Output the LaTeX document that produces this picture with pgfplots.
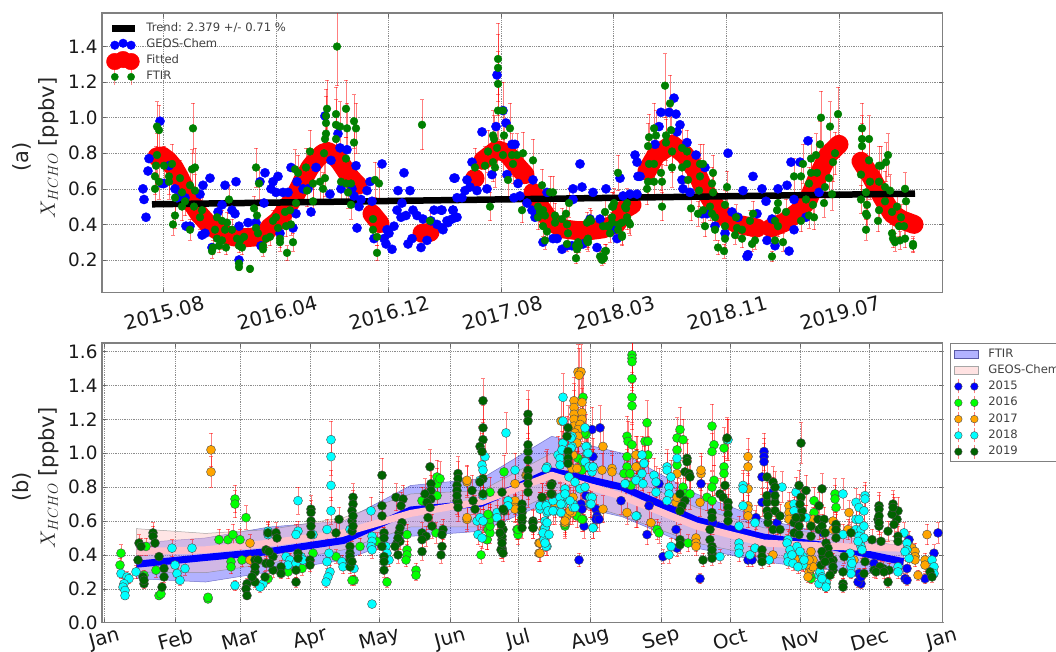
\documentclass[border=0pt]{standalone}
\usepackage{pgfplots}
\usepackage{pgfplotstable}
\usepackage{fontspec}
\setmainfont{DejaVu Sans}
\pgfplotsset{compat=1.18}
\definecolor{ftirg}{rgb}{0,0.5,0}
\definecolor{lime}{rgb}{0,1,0}
\definecolor{orng}{rgb}{1,0.647,0}
\definecolor{dkg}{rgb}{0,0.39,0}
\definecolor{cyn}{rgb}{0,1,1}
\definecolor{pnk}{rgb}{1,0.753,0.796}
\definecolor{framegray}{gray}{0.5}
\tikzset{labelA/.style={font=\fontsize{21}{25}\selectfont,color=black!85}}

% Panel (a): x = position along the time axis, y = XHCHO (ppbv)
\pgfplotstableread[row sep=\\,header=false]{
143 0.60\\144 0.54\\146 0.44\\148 0.70\\149 0.77\\160 0.98\\162 0.63\\164 0.63\\169 0.73\\175 0.60\\177 0.55\\190 0.39\\186 0.39\\185 0.55\\200 0.57\\203 0.62\\210 0.66\\225 0.62\\236 0.64\\202 0.34\\205 0.35\\218 0.47\\212 0.27\\222 0.51\\232 0.48\\235 0.46\\239 0.39\\239 0.20\\248 0.41\\256 0.41\\260 0.64\\265 0.69\\264 0.52\\271 0.60\\273 0.64\\278 0.67\\276 0.58\\283 0.58\\288 0.58\\291 0.72\\297 0.64\\296 0.46\\293 0.38\\280 0.35\\261 0.28\\311 0.47\\303 0.60\\308 0.60\\316 0.72\\325 1.01\\338 0.91\\331 0.76\\330 0.57\\340 0.83\\347 0.82\\341 0.60\\352 0.60\\356 0.73\\354 0.56\\361 0.54\\359 0.50\\357 0.38\\367 0.59\\370 0.64\\372 0.53\\374 0.32\\382 0.74\\384 0.32\\386 0.29\\387 0.37\\389 0.35\\392 0.26\\394 0.39\\397 0.48\\398 0.59\\401 0.44\\404 0.69\\406 0.45\\402 0.52\\410 0.59\\408 0.29\\412 0.32\\413 0.48\\417 0.45\\421 0.27\\423 0.43\\427 0.31\\431 0.42\\434 0.48\\441 0.48\\437 0.40\\442 0.38\\447 0.42\\452 0.43\\453 0.48\\457 0.44\\455 0.66\\457 0.55\\462 0.55\\465 0.59\\467 0.65\\470 0.61\\472 0.75\\477 0.59\\482 0.92\\487 0.60\\492 0.68\\
503 1.04\\496 0.95\\497 1.24\\506 0.97\\512 0.85\\515 0.85\\507 0.68\\454 0.66\\518 0.63\\533 0.65\\520 0.56\\514 0.55\\547 0.58\\580 0.74\\582 0.61\\573 0.60\\593 0.58\\606 0.60\\635 0.79\\637 0.75\\638 0.67\\620 0.66\\623 0.56\\630 0.57\\637 0.57\\527 0.52\\532 0.48\\535 0.44\\553 0.32\\557 0.32\\543 0.30\\562 0.26\\572 0.28\\567 0.28\\590 0.43\\583 0.29\\597 0.27\\600 0.43\\613 0.37\\617 0.32\\573 0.54\\442 0.48\\453 0.48\\456 0.44\\448 0.41\\443 0.37\\640 0.67\\
674 1.11\\661 1.03\\669 1.03\\676 1.02\\659 0.95\\680 0.96\\677 0.92\\655 0.85\\687 0.86\\696 0.79\\705 0.72\\682 0.65\\683 0.60\\690 0.58\\728 0.80\\702 0.46\\707 0.46\\715 0.39\\725 0.35\\732 0.47\\738 0.44\\743 0.59\\753 0.67\\762 0.60\\766 0.53\\757 0.46\\748 0.23\\747 0.22\\767 0.31\\772 0.43\\775 0.28\\778 0.60\\787 0.62\\791 0.75\\800 0.75\\789 0.25\\794 0.37\\794 0.54\\808 0.87\\806 0.44\\819 0.58\\
}\blueA

\pgfplotstableread[row sep=\\,header=false]{
157 0.95 0.14\\159 0.93 0.14\\157 0.79 0.12\\156 0.73 0.11\\164 0.73 0.11\\155 0.67 0.10\\159 0.64 0.10\\155 0.60 0.09\\172 0.74 0.11\\169 0.67 0.10\\169 0.64 0.10\\180 0.66 0.10\\175 0.55 0.08\\175 0.45 0.07\\173 0.40 0.06\\182 0.58 0.09\\182 0.50 0.08\\185 0.53 0.08\\193 0.94 0.14\\192 0.71 0.11\\195 0.72 0.11\\190 0.62 0.09\\195 0.59 0.09\\194 0.50 0.08\\190 0.37 0.06\\202 0.48 0.07\\200 0.44 0.07\\229 0.54 0.08\\217 0.44 0.07\\222 0.42 0.06\\227 0.41 0.06\\215 0.37 0.06\\217 0.32 0.05\\222 0.31 0.05\\225 0.37 0.06\\232 0.37 0.06\\226 0.27 0.04\\213 0.27 0.04\\212 0.25 0.04\\219 0.28 0.04\\237 0.32 0.05\\240 0.31 0.05\\244 0.33 0.05\\239 0.28 0.04\\242 0.27 0.04\\239 0.18 0.03\\239 0.16 0.02\\250 0.15 0.02\\256 0.72 0.11\\259 0.63 0.09\\254 0.49 0.07\\257 0.45 0.07\\256 0.38 0.06\\258 0.35 0.05\\263 0.28 0.04\\263 0.26 0.04\\266 0.32 0.05\\270 0.33 0.05\\273 0.42 0.06\\276 0.44 0.07\\278 0.38 0.06\\280 0.32 0.05\\280 0.30 0.05\\287 0.24 0.04\\286 0.39 0.06\\291 0.40 0.06\\293 0.30 0.05\\285 0.47 0.07\\290 0.48 0.07\\296 0.52 0.08\\295 0.71 0.11\\298 0.69 0.10\\307 0.59 0.09\\310 0.81 0.12\\306 0.72 0.11\\313 0.53 0.08\\313 0.63 0.09\\320 0.64 0.10\\325 0.66 0.10\\323 0.60 0.09\\324 0.80 0.12\\325 0.88 0.13\\326 0.91 0.14\\326 0.97 0.15\\326 1.01 0.15\\327 1.05 0.16\\336 1.02 0.15\\336 0.88 0.13\\336 0.96 0.14\\340 0.95 0.14\\346 1.05 0.16\\347 0.94 0.14\\354 0.98 0.15\\356 0.94 0.14\\354 0.86 0.13\\346 0.77 0.12\\341 0.64 0.10\\346 0.63 0.09\\351 0.63 0.09\\348 0.58 0.09\\351 0.51 0.08\\337 1.40 0.22\\375 0.65 0.10\\379 0.63 0.09\\373 0.43 0.06\\373 0.37 0.06\\377 0.33 0.05\\377 0.24 0.04\\422 0.96 0.14\\430 0.42 0.06\\475 0.72 0.11\\490 0.50 0.08\\485 0.73 0.11\\488 0.81 0.12\\493 0.90 0.14\\494 0.88 0.13\\495 0.72 0.11\\493 0.75 0.11\\497 0.83 0.12\\498 1.19 0.18\\498 1.28 0.19\\498 1.33 0.20\\498 1.04 0.16\\503 1.04 0.16\\504 0.90 0.14\\503 0.79 0.12\\510 0.94 0.14\\508 0.65 0.10\\512 0.79 0.12\\513 0.74 0.11\\523 0.80 0.12\\522 0.48 0.07\\517 0.79 0.12\\
533 0.76 0.12\\542 0.62 0.09\\550 0.58 0.09\\553 0.58 0.09\\538 0.50 0.08\\540 0.47 0.07\\543 0.48 0.07\\538 0.44 0.07\\545 0.45 0.07\\547 0.36 0.05\\543 0.39 0.06\\545 0.31 0.05\\555 0.45 0.07\\555 0.41 0.06\\562 0.43 0.06\\566 0.46 0.07\\567 0.40 0.06\\569 0.52 0.08\\568 0.35 0.05\\567 0.29 0.04\\576 0.21 0.03\\576 0.28 0.04\\577 0.26 0.04\\578 0.30 0.05\\587 0.41 0.06\\590 0.43 0.06\\588 0.32 0.05\\588 0.30 0.05\\605 0.47 0.07\\603 0.39 0.06\\607 0.39 0.06\\612 0.44 0.07\\613 0.50 0.08\\612 0.41 0.06\\610 0.35 0.05\\605 0.25 0.04\\600 0.22 0.03\\603 0.22 0.03\\602 0.20 0.03\\618 0.69 0.10\\625 0.50 0.08\\627 0.44 0.07\\622 0.41 0.06\\618 0.37 0.06\\622 0.34 0.05\\630 0.40 0.06\\
614 0.52 0.08\\612 0.50 0.08\\627 0.52 0.08\\626 0.49 0.07\\629 0.41 0.06\\622 0.33 0.05\\619 0.40 0.06\\609 0.39 0.06\\606 0.25 0.04\\604 0.21 0.03\\579 0.28 0.04\\587 0.31 0.05\\591 0.42 0.06\\
665 1.18 0.18\\670 1.08 0.16\\654 0.94 0.14\\649 0.89 0.13\\656 0.90 0.14\\648 0.84 0.13\\666 0.90 0.14\\671 0.93 0.14\\672 0.81 0.12\\666 0.86 0.13\\672 0.72 0.11\\662 0.50 0.08\\662 0.64 0.10\\661 0.69 0.10\\654 0.74 0.11\\649 0.74 0.11\\648 0.64 0.10\\654 0.64 0.10\\647 0.60 0.09\\682 0.83 0.12\\687 0.81 0.12\\682 0.72 0.11\\687 0.74 0.11\\688 0.65 0.10\\691 0.49 0.07\\700 0.74 0.11\\703 0.74 0.11\\700 0.67 0.10\\699 0.59 0.09\\698 0.46 0.07\\703 0.48 0.07\\713 0.69 0.10\\712 0.63 0.09\\713 0.58 0.09\\710 0.50 0.08\\712 0.46 0.07\\715 0.44 0.07\\705 0.39 0.06\\715 0.37 0.06\\718 0.27 0.04\\724 0.25 0.04\\727 0.61 0.09\\725 0.51 0.08\\725 0.39 0.06\\725 0.32 0.05\\736 0.44 0.07\\737 0.38 0.06\\742 0.37 0.06\\742 0.32 0.05\\735 0.34 0.05\\750 0.42 0.06\\753 0.46 0.07\\752 0.29 0.04\\755 0.31 0.05\\772 0.22 0.03\\778 0.52 0.08\\777 0.48 0.07\\775 0.42 0.06\\778 0.39 0.06\\775 0.31 0.05\\783 0.30 0.05\\786 0.47 0.07\\794 0.67 0.10\\801 0.67 0.10\\803 0.74 0.11\\811 0.77 0.12\\816 0.79 0.12\\809 0.63 0.09\\811 0.69 0.10\\817 0.69 0.10\\806 0.54 0.08\\813 0.51 0.08\\809 0.45 0.07\\814 0.44 0.07\\801 0.42 0.06\\821 1.00 0.15\\820 0.85 0.13\\825 0.61 0.09\\824 0.52 0.08\\829 0.66 0.10\\830 0.95 0.14\\833 0.75 0.11\\835 0.80 0.12\\838 1.02 0.15\\832 0.57 0.09\\
862 0.94 0.14\\862 0.88 0.13\\862 0.84 0.13\\861 0.68 0.10\\861 0.54 0.08\\869 0.88 0.13\\869 0.76 0.11\\870 0.64 0.10\\866 0.58 0.09\\867 0.51 0.08\\866 0.46 0.07\\867 0.45 0.07\\866 0.37 0.06\\878 0.42 0.06\\879 0.73 0.11\\881 0.73 0.11\\886 0.75 0.11\\888 0.79 0.12\\879 0.64 0.10\\885 0.61 0.09\\890 0.59 0.09\\879 0.48 0.07\\885 0.53 0.08\\892 0.47 0.07\\897 0.50 0.08\\901 0.44 0.07\\905 0.60 0.09\\906 0.53 0.08\\892 0.35 0.05\\893 0.32 0.05\\895 0.30 0.05\\899 0.39 0.06\\904 0.39 0.06\\900 0.31 0.05\\905 0.32 0.05\\913 0.29 0.04\\913 0.28 0.04\\
}\greenA

% Panel (b): x = position along the month axis, y = XHCHO, e = error
\pgfplotstableread[row sep=\\,header=false]{
579 0.37 0.04\\700 0.26 0.03\\663 0.39 0.04\\647 0.52 0.06\\592 1.14 0.13\\600 1.15 0.13\\593 0.98 0.11\\586 0.75 0.08\\581 0.70 0.08\\582 0.67 0.08\\584 0.57 0.07\\596 0.67 0.08\\597 0.63 0.07\\596 0.61 0.07\\599 0.61 0.07\\621 0.72 0.08\\659 0.82 0.09\\649 0.69 0.08\\676 0.55 0.06\\677 0.44 0.05\\701 0.82 0.09\\713 0.59 0.07\\748 0.37 0.04\\752 0.37 0.04\\756 0.62 0.07\\762 0.71 0.08\\762 0.86 0.10\\764 1.01 0.11\\764 0.98 0.11\\764 0.95 0.11\\773 0.77 0.09\\777 0.59 0.07\\823 0.53 0.06\\859 0.29 0.03\\861 0.23 0.03\\858 0.24 0.03\\861 0.27 0.03\\874 0.35 0.04\\909 0.49 0.05\\907 0.32 0.04\\905 0.26 0.03\\907 0.25 0.03\\925 0.26 0.03\\934 0.41 0.05\\938 0.53 0.06\\
}\yrA
\pgfplotstableread[row sep=\\,header=false]{
121 0.41 0.05\\120 0.34 0.04\\146 0.45 0.05\\159 0.16 0.02\\161 0.17 0.02\\144 0.28 0.03\\156 0.31 0.04\\208 0.14 0.02\\208 0.15 0.02\\219 0.49 0.06\\228 0.49 0.06\\233 0.52 0.06\\240 0.49 0.06\\235 0.73 0.08\\235 0.70 0.08\\246 0.62 0.07\\231 0.36 0.04\\231 0.33 0.04\\242 0.37 0.04\\268 0.26 0.03\\288 0.30 0.04\\302 0.32 0.04\\313 0.41 0.05\\336 0.39 0.04\\354 0.25 0.03\\352 0.25 0.03\\360 0.45 0.05\\377 0.48 0.05\\387 0.24 0.03\\407 0.52 0.06\\407 0.43 0.05\\407 0.40 0.05\\406 0.37 0.04\\416 0.31 0.04\\416 0.28 0.03\\422 0.72 0.08\\437 0.86 0.10\\437 0.82 0.09\\437 0.75 0.08\\436 0.53 0.06\\490 0.77 0.09\\490 0.63 0.07\\488 0.59 0.07\\488 0.55 0.06\\487 0.49 0.06\\481 0.40 0.05\\504 0.89 0.10\\517 0.55 0.06\\518 0.52 0.06\\
440 0.85 0.10\\487 0.49 0.06\\490 0.53 0.06\\490 0.57 0.07\\490 0.61 0.07\\488 0.64 0.07\\518 0.55 0.06\\577 0.63 0.07\\565 0.57 0.07\\583 1.33 0.15\\583 0.61 0.07\\578 0.97 0.11\\583 0.95 0.11\\586 1.11 0.12\\582 0.90 0.10\\
582 0.61 0.07\\565 0.58 0.07\\584 1.12 0.13\\632 1.58 0.17\\632 1.56 0.17\\632 1.54 0.17\\632 1.44 0.16\\632 1.33 0.15\\632 1.28 0.14\\627 1.10 0.12\\628 1.07 0.12\\632 1.05 0.12\\627 0.98 0.11\\627 0.92 0.10\\624 0.88 0.10\\630 0.88 0.10\\626 0.82 0.09\\631 0.81 0.09\\647 1.18 0.13\\645 1.07 0.12\\648 1.07 0.12\\648 0.99 0.11\\644 0.94 0.11\\657 0.55 0.06\\659 0.53 0.06\\680 1.14 0.13\\677 1.09 0.12\\683 1.08 0.12\\677 1.02 0.11\\677 0.93 0.10\\683 0.80 0.09\\685 0.76 0.09\\690 0.76 0.09\\688 0.47 0.05\\712 1.16 0.13\\714 1.05 0.12\\712 1.01 0.11\\714 0.84 0.09\\712 0.80 0.09\\707 0.74 0.08\\712 0.72 0.08\\724 1.03 0.12\\727 1.08 0.12\\724 0.92 0.10\\724 0.88 0.10\\814 0.72 0.08\\814 0.65 0.07\\835 0.76 0.09\\835 0.73 0.08\\836 0.68 0.08\\811 0.26 0.03\\810 0.28 0.03\\826 0.21 0.03\\826 0.23 0.03\\
}\yrB
\pgfplotstableread[row sep=\\,header=false]{
211 1.02 0.10\\211 0.89 0.09\\250 0.47 0.05\\250 0.37 0.04\\467 0.83 0.09\\467 0.61 0.07\\515 0.82 0.09\\515 0.72 0.08\\515 0.68 0.08\\515 0.67 0.08\\526 0.87 0.10\\
467 0.84 0.09\\467 0.62 0.07\\539 0.47 0.05\\539 0.41 0.05\\527 0.87 0.10\\561 1.19 0.13\\578 1.48 0.16\\581 1.48 0.16\\579 1.46 0.16\\574 1.31 0.14\\574 1.27 0.14\\582 1.30 0.14\\574 1.23 0.14\\582 1.24 0.14\\574 1.20 0.13\\582 1.20 0.13\\574 1.16 0.13\\580 1.17 0.13\\578 1.14 0.13\\575 1.12 0.12\\578 1.10 0.12\\577 1.06 0.12\\573 0.99 0.11\\572 0.91 0.10\\577 0.91 0.10\\603 1.04 0.12\\602 0.90 0.10\\612 0.91 0.10\\612 0.89 0.10\\603 0.67 0.08\\627 0.65 0.07\\637 0.99 0.11\\637 0.92 0.10\\565 0.59 0.07\\567 0.63 0.07\\573 0.74 0.08\\572 0.65 0.07\\555 0.70 0.08\\
636 0.99 0.11\\636 0.92 0.10\\651 0.59 0.07\\676 0.71 0.08\\677 0.74 0.08\\677 0.88 0.10\\696 0.50 0.06\\696 0.47 0.05\\696 0.45 0.05\\700 0.71 0.08\\701 0.88 0.10\\701 0.90 0.10\\748 0.98 0.11\\748 0.92 0.10\\748 0.79 0.09\\748 0.69 0.08\\748 0.67 0.08\\748 0.63 0.07\\773 0.40 0.05\\789 0.69 0.08\\789 0.65 0.07\\789 0.61 0.07\\798 0.37 0.04\\802 0.35 0.04\\809 0.30 0.04\\811 0.32 0.04\\813 0.37 0.04\\813 0.33 0.04\\813 0.61 0.07\\833 0.60 0.07\\836 0.57 0.07\\833 0.55 0.06\\849 0.65 0.07\\848 0.55 0.06\\854 0.37 0.04\\912 0.44 0.05\\915 0.42 0.05\\915 0.39 0.04\\915 0.37 0.04\\918 0.28 0.03\\925 0.37 0.04\\925 0.34 0.04\\927 0.52 0.06\\570 0.66 0.08\\565 0.60 0.07\\540 0.41 0.05\\540 0.47 0.05\\543 0.55 0.06\\
806 0.34 0.04\\809 0.37 0.04\\811 0.42 0.05\\808 0.27 0.03\\
}\yrC
\pgfplotstableread[row sep=\\,header=false]{
121 0.29 0.03\\127 0.27 0.03\\129 0.26 0.03\\124 0.23 0.03\\123 0.21 0.03\\125 0.19 0.02\\125 0.16 0.02\\136 0.30 0.04\\172 0.44 0.05\\192 0.44 0.05\\177 0.29 0.03\\175 0.34 0.04\\180 0.25 0.03\\185 0.32 0.04\\235 0.22 0.03\\268 0.54 0.06\\268 0.52 0.06\\263 0.23 0.03\\260 0.21 0.03\\298 0.54 0.06\\296 0.52 0.06\\286 0.39 0.04\\290 0.37 0.04\\288 0.34 0.04\\296 0.35 0.04\\301 0.39 0.04\\303 0.37 0.04\\298 0.72 0.08\\313 0.52 0.06\\331 1.08 0.11\\331 0.98 0.11\\331 0.81 0.09\\331 0.66 0.08\\327 0.55 0.06\\329 0.41 0.05\\327 0.36 0.04\\330 0.30 0.04\\328 0.27 0.03\\326 0.24 0.03\\342 0.36 0.04\\343 0.33 0.04\\350 0.55 0.06\\350 0.35 0.04\\354 0.32 0.04\\372 0.11 0.02\\371 0.66 0.08\\372 0.51 0.06\\372 0.48 0.05\\371 0.45 0.05\\372 0.43 0.05\\386 0.45 0.05\\387 0.41 0.05\\389 0.37 0.04\\
485 0.98 0.11\\482 0.93 0.10\\483 0.90 0.10\\480 0.84 0.09\\483 0.75 0.08\\477 0.60 0.07\\480 0.62 0.07\\483 0.60 0.07\\478 0.52 0.06\\482 0.50 0.06\\497 0.65 0.07\\497 0.62 0.07\\506 1.12 0.12\\515 0.90 0.10\\508 0.72 0.08\\508 0.69 0.08\\547 0.92 0.10\\540 0.69 0.08\\540 0.67 0.08\\547 0.65 0.07\\547 0.70 0.08\\545 0.56 0.06\\545 0.53 0.06\\544 0.49 0.06\\547 0.45 0.05\\553 0.72 0.08\\555 0.66 0.08\\558 0.99 0.11\\560 0.97 0.11\\563 1.33 0.14\\563 1.19 0.13\\563 1.06 0.12\\562 1.02 0.11\\560 0.93 0.10\\572 1.10 0.12\\572 1.04 0.12\\565 0.79 0.09\\565 0.75 0.08\\563 0.70 0.08\\573 0.70 0.08\\573 0.68 0.08\\587 1.04 0.12\\587 1.00 0.11\\585 0.95 0.11\\593 0.92 0.10\\592 0.89 0.10\\590 0.74 0.08\\590 0.70 0.08\\593 0.56 0.06\\637 0.63 0.07\\638 0.85 0.10\\625 0.82 0.09\\
571 1.09 0.12\\571 1.03 0.12\\585 1.15 0.13\\586 1.04 0.12\\588 1.00 0.11\\589 0.92 0.10\\593 0.92 0.10\\592 0.74 0.08\\591 0.70 0.08\\593 0.56 0.06\\540 0.69 0.08\\546 0.69 0.08\\546 0.91 0.10\\545 0.56 0.06\\543 0.53 0.06\\546 0.45 0.05\\548 0.66 0.08\\553 0.66 0.08\\560 0.74 0.08\\561 0.70 0.08\\561 0.65 0.07\\565 0.76 0.09\\636 0.63 0.07\\636 0.84 0.09\\642 0.88 0.10\\643 0.82 0.09\\642 0.99 0.11\\644 0.94 0.10\\654 0.87 0.10\\656 0.83 0.09\\656 0.77 0.09\\667 0.92 0.10\\667 0.90 0.10\\671 0.86 0.10\\669 0.80 0.09\\669 0.76 0.09\\667 0.72 0.08\\671 0.45 0.05\\669 0.40 0.05\\677 0.97 0.11\\720 0.39 0.04\\728 1.08 0.12\\743 0.81 0.09\\743 0.79 0.09\\743 0.69 0.08\\739 0.57 0.06\\739 0.47 0.05\\739 0.44 0.05\\739 0.41 0.05\\750 0.40 0.05\\755 0.59 0.07\\755 0.44 0.05\\769 0.37 0.04\\782 0.80 0.09\\788 0.49 0.06\\788 0.39 0.04\\788 0.36 0.04\\793 0.35 0.04\\796 0.77 0.09\\794 0.70 0.08\\794 0.66 0.08\\806 0.62 0.07\\803 0.39 0.04\\803 0.34 0.04\\819 0.28 0.03\\819 0.23 0.03\\826 0.24 0.03\\826 0.21 0.03\\843 0.76 0.09\\843 0.52 0.06\\851 0.37 0.04\\851 0.33 0.04\\851 0.29 0.03\\856 0.71 0.08\\859 0.68 0.08\\865 0.75 0.08\\865 0.73 0.08\\864 0.66 0.08\\856 0.61 0.07\\859 0.61 0.07\\856 0.55 0.06\\861 0.55 0.06\\864 0.57 0.07\\859 0.51 0.06\\864 0.50 0.06\\861 0.45 0.05\\898 0.33 0.04\\898 0.30 0.04\\904 0.53 0.06\\907 0.47 0.05\\907 0.43 0.05\\909 0.38 0.04\\932 0.37 0.04\\934 0.33 0.04\\934 0.29 0.03\\
787 0.47 0.05\\790 0.43 0.05\\792 0.40 0.05\\797 0.45 0.05\\800 0.42 0.05\\804 0.37 0.04\\798 0.33 0.04\\820 0.30 0.04\\822 0.27 0.03\\822 0.26 0.03\\850 0.41 0.05\\852 0.35 0.04\\858 0.48 0.05\\862 0.43 0.05\\905 0.42 0.05\\545 0.60 0.07\\547 0.59 0.07\\549 0.52 0.06\\545 0.47 0.05\\569 0.86 0.10\\575 0.83 0.09\\580 0.79 0.09\\570 0.72 0.08\\575 0.68 0.08\\585 0.80 0.09\\
}\yrD
\pgfplotstableread[row sep=\\,header=false]{
139 0.47 0.05\\141 0.45 0.05\\143 0.27 0.03\\144 0.23 0.03\\144 0.25 0.03\\138 0.37 0.04\\153 0.53 0.06\\153 0.51 0.06\\155 0.47 0.05\\159 0.39 0.04\\164 0.32 0.04\\164 0.27 0.03\\162 0.21 0.03\\247 0.23 0.03\\246 0.20 0.02\\247 0.16 0.02\\255 0.37 0.04\\255 0.30 0.04\\255 0.24 0.03\\258 0.37 0.04\\266 0.43 0.05\\266 0.35 0.04\\265 0.27 0.03\\268 0.53 0.06\\273 0.39 0.04\\273 0.31 0.04\\276 0.53 0.06\\277 0.50 0.06\\281 0.33 0.04\\281 0.29 0.03\\296 0.31 0.04\\296 0.24 0.03\\298 0.41 0.05\\298 0.38 0.04\\311 0.67 0.08\\311 0.65 0.07\\311 0.60 0.07\\311 0.57 0.07\\311 0.52 0.06\\310 0.37 0.04\\310 0.34 0.04\\339 0.61 0.07\\336 0.53 0.06\\353 0.74 0.08\\353 0.70 0.08\\352 0.66 0.08\\352 0.60 0.07\\352 0.54 0.06\\350 0.45 0.05\\350 0.41 0.05\\350 0.37 0.04\\350 0.33 0.04\\382 0.87 0.10\\382 0.69 0.08\\382 0.63 0.07\\384 0.53 0.06\\384 0.39 0.04\\384 0.36 0.04\\384 0.31 0.04\\396 0.74 0.08\\403 0.73 0.08\\401 0.69 0.08\\402 0.59 0.07\\399 0.53 0.06\\397 0.47 0.05\\400 0.48 0.05\\398 0.40 0.05\\430 0.92 0.10\\431 0.82 0.09\\431 0.78 0.09\\431 0.73 0.08\\427 0.71 0.08\\422 0.53 0.06\\426 0.51 0.06\\422 0.49 0.06\\422 0.42 0.05\\432 0.57 0.07\\443 0.55 0.06\\442 0.52 0.06\\442 0.45 0.05\\441 0.40 0.05\\458 0.88 0.10\\458 0.85 0.10\\457 0.81 0.09\\457 0.78 0.09\\457 0.72 0.08\\458 0.71 0.08\\472 0.78 0.09\\473 0.72 0.08\\475 0.67 0.08\\
483 1.31 0.13\\483 1.15 0.13\\483 1.08 0.12\\480 1.04 0.12\\482 1.01 0.11\\483 0.85 0.10\\480 0.83 0.09\\483 0.76 0.09\\502 0.49 0.06\\503 0.55 0.06\\502 0.51 0.06\\502 0.44 0.05\\502 0.43 0.05\\504 0.66 0.08\\528 1.23 0.14\\528 1.19 0.13\\528 1.01 0.11\\528 0.96 0.11\\528 0.90 0.10\\528 0.86 0.10\\528 0.77 0.09\\522 0.70 0.08\\522 0.65 0.07\\522 0.60 0.07\\500 0.53 0.06\\501 0.43 0.05\\503 0.67 0.08\\502 0.77 0.09\\533 0.60 0.07\\533 0.56 0.06\\542 0.74 0.08\\552 0.82 0.09\\552 0.76 0.09\\568 1.15 0.13\\567 1.10 0.12\\568 1.01 0.11\\568 0.97 0.11\\568 0.94 0.11\\
551 0.81 0.09\\551 0.76 0.09\\542 0.74 0.08\\533 0.59 0.07\\533 0.56 0.06\\687 0.97 0.11\\687 0.95 0.11\\685 0.89 0.10\\689 0.88 0.10\\690 0.86 0.10\\680 0.76 0.09\\685 0.72 0.08\\682 0.69 0.08\\680 0.66 0.08\\680 0.49 0.06\\680 0.46 0.05\\703 0.37 0.04\\712 0.65 0.07\\710 0.49 0.06\\712 0.45 0.05\\712 0.41 0.05\\712 0.38 0.04\\727 1.09 0.12\\725 0.81 0.09\\720 0.76 0.09\\723 0.74 0.08\\728 0.71 0.08\\728 0.68 0.08\\728 0.64 0.07\\728 0.60 0.07\\762 0.43 0.05\\762 0.39 0.04\\762 0.36 0.04\\767 0.86 0.10\\767 0.71 0.08\\767 0.66 0.08\\768 0.59 0.07\\773 0.83 0.09\\775 0.80 0.09\\775 0.71 0.08\\775 0.66 0.08\\773 0.55 0.06\\780 0.55 0.06\\780 0.63 0.07\\801 1.06 0.12\\799 0.81 0.09\\806 0.78 0.09\\801 0.74 0.08\\802 0.66 0.08\\794 0.59 0.07\\799 0.57 0.07\\794 0.53 0.06\\799 0.52 0.06\\811 0.57 0.07\\811 0.51 0.06\\822 0.79 0.09\\819 0.69 0.08\\818 0.61 0.07\\824 0.61 0.07\\819 0.55 0.06\\823 0.39 0.04\\821 0.34 0.04\\833 0.37 0.04\\833 0.31 0.04\\830 0.28 0.03\\836 0.58 0.07\\836 0.55 0.06\\836 0.50 0.06\\843 0.30 0.04\\843 0.23 0.03\\843 0.21 0.03\\844 0.39 0.04\\851 0.53 0.06\\865 0.36 0.04\\864 0.29 0.03\\879 0.69 0.08\\879 0.67 0.08\\878 0.61 0.07\\879 0.57 0.07\\872 0.49 0.06\\874 0.31 0.04\\881 0.48 0.05\\883 0.32 0.04\\889 0.31 0.04\\888 0.24 0.03\\888 0.54 0.06\\893 0.70 0.08\\894 0.66 0.08\\898 0.66 0.08\\897 0.61 0.07\\894 0.58 0.07\\898 0.51 0.06\\898 0.48 0.05\\930 0.30 0.04\\932 0.27 0.03\\
822 0.57 0.07\\825 0.53 0.06\\826 0.47 0.05\\828 0.44 0.05\\822 0.42 0.05\\829 0.40 0.05\\831 0.36 0.04\\833 0.33 0.04\\825 0.36 0.04\\255 0.33 0.04\\252 0.27 0.03\\270 0.35 0.04\\269 0.42 0.05\\350 0.39 0.04\\352 0.36 0.04\\353 0.63 0.07\\353 0.57 0.07\\382 0.45 0.05\\384 0.50 0.06\\400 0.56 0.06\\398 0.50 0.06\\395 0.45 0.05\\425 0.76 0.09\\430 0.68 0.08\\428 0.62 0.07\\457 0.75 0.08\\458 0.68 0.08\\528 1.05 0.12\\528 0.82 0.09\\522 0.67 0.08\\522 0.62 0.07\\522 0.56 0.06\\502 0.47 0.05\\503 0.41 0.05\\501 0.58 0.07\\712 0.43 0.05\\712 0.62 0.07\\710 0.55 0.06\\768 0.63 0.07\\767 0.75 0.08\\775 0.75 0.08\\800 0.70 0.08\\801 0.62 0.07\\796 0.62 0.07\\880 0.33 0.04\\876 0.30 0.04\\884 0.30 0.04\\892 0.64 0.07\\893 0.68 0.08\\879 0.63 0.07\\879 0.59 0.07\\
}\yrE

\pgfplotsset{
  base/.style={
    scale only axis, width=840.7pt, height=279.6pt,
    axis line style={framegray,line width=1.5pt},
    grid=major, grid style={dash pattern=on 0.6pt off 1.2pt,black!45,line width=0.5pt},
    tick align=inside, major tick length=4pt,
    tick style={black!60,line width=0.5pt},
    tick label style={font=\fontsize{18.4}{22}\selectfont,color=black!90},
    /pgf/number format/assume math mode=true,
    /pgf/number format/fixed,/pgf/number format/fixed zerofill,/pgf/number format/precision=1,
    yticklabel style={xshift=-1pt},
    xticklabel style={rotate=15,anchor=center,font=\fontsize{19.8}{22}\selectfont,xshift=-4.5pt},
    xtick pos=both, ytick pos=both,
    xmin=102, xmax=942.7,
  },
  ebar/.style={error bars/.cd,y dir=both,y explicit,
    error bar style={red,opacity=0.5,line width=1pt},
    error mark options={rotate=90,red,opacity=0.5,mark size=2.2pt,line width=0.8pt}},
  yrmark/.style={only marks,mark=*,mark size=4.5pt,
    mark options={fill=#1,draw=black!70,line width=0.4pt}},
}

\begin{document}
\begin{tikzpicture}[x=1pt,y=1pt]
\useasboundingbox (0,0) rectangle (1056,652);
\clip (0,0) rectangle (1056,652);

% ---------- panel (a)
\begin{axis}[base,
  at={(102pt,359.3pt)},anchor=south west,
  ymin=0.016,ymax=1.588,
  xtick={163.3,276.4,388.2,501.5,613.7,726.3,839.3},
  xticklabels={2015.08,2016.04,2016.12,2017.08,2018.03,2018.11,2019.07},
  ytick={0.2,0.4,0.6,0.8,1.0,1.2,1.4},
  xticklabel style={yshift=-20pt},
  legend style={at={(rel axis cs:0,1)},anchor=north west,draw=none,fill=none,
    xshift=7pt,yshift=-4.5pt,font=\fontsize{11.6}{13}\selectfont,text=black!75,
    nodes={inner ysep=1.9pt,inner xsep=1pt,text height=9.4pt,text depth=3.1pt}},
  legend cell align=left,
  after end axis/.code={
    \node[xshift=-80pt,yshift=-4pt,rotate=90,labelA] at (rel axis cs:0,0.5) {(a)};
    \node[xshift=-53pt,yshift=5pt,rotate=90,labelA] at (rel axis cs:0,0.5) {$X_{HCHO}$ [ppbv]};
  },
]
\addlegendimage{legend image code/.code={\path[draw=none,fill=none] (0,-3pt) rectangle (33pt,3pt);\fill[black] (0,-3pt) rectangle (22pt,3pt);}}
\addlegendentry{Trend: 2.379 +/- 0.71 \%}
\addlegendimage{legend image code/.code={\path[draw=none,fill=none] (0,-3pt) rectangle (33pt,3pt);\fill[blue,overlay] (2.4pt,-1pt) circle (4.3pt) (10.7pt,1pt) circle (4.3pt) (18.7pt,-1pt) circle (4.3pt);}}
\addlegendentry{GEOS-Chem}
\addlegendimage{legend image code/.code={\path[draw=none,fill=none] (0,-3pt) rectangle (33pt,3pt);\fill[red,overlay] (2.4pt,-1pt) circle (8.3pt) (10.7pt,1pt) circle (8.3pt) (18.7pt,-1pt) circle (8.3pt);}}
\addlegendentry{Fitted}
\addlegendimage{legend image code/.code={\path[draw=none,fill=none] (0,-3pt) rectangle (33pt,3pt);\draw[red,opacity=0.45,line width=0.9pt,overlay] (2.4pt,-8pt)--(2.4pt,8pt) (18.7pt,-8pt)--(18.7pt,8pt);\fill[ftirg,overlay] (2.4pt,0) circle (3.6pt) (18.7pt,0) circle (3.6pt);}}
\addlegendentry{FTIR}

\addplot[forget plot,only marks,mark=*,mark size=4.6pt,color=blue] table[x index=0,y index=1] {\blueA};
\addplot[forget plot,red,line width=19pt,line cap=round,line join=round] coordinates {(157,0.78)(162,0.785)(168,0.76)(174,0.72)(179,0.67)(185,0.60)(192,0.52)(199,0.46)(207,0.41)(215,0.375)(224,0.345)(234,0.33)(245,0.325)(256,0.33)(265,0.35)(270,0.385)(278,0.42)(283,0.46)(290,0.52)(296,0.57)(303,0.65)(310,0.72)(317,0.77)(323,0.80)(328,0.81)(334,0.79)(340,0.75)(346,0.70)(351,0.66)(358,0.62)};
\addplot[forget plot,red,line width=19pt,line cap=round,line join=round] coordinates {(372,0.46)(380,0.405)};
\addplot[forget plot,red,line width=19pt,line cap=round,line join=round] coordinates {(422,0.35)(430,0.355)};
\addplot[forget plot,red,line width=19pt,line cap=round,line join=round] coordinates {(474.7,0.66)(475,0.66)};
\addplot[forget plot,red,line width=19pt,line cap=round,line join=round] coordinates {(483,0.76)(497,0.82)(507,0.80)(517,0.73)(525,0.68)};
\addplot[forget plot,red,line width=19pt,line cap=round,line join=round] coordinates {(533,0.58)(540,0.50)(550,0.42)(563,0.375)(577,0.365)(590,0.365)(603,0.375)(617,0.405)(623,0.48)(632,0.51)};
\addplot[forget plot,red,line width=19pt,line cap=round,line join=round] coordinates {(647,0.70)(656,0.79)(672,0.85)(685,0.79)(695,0.71)(703,0.61)(713,0.52)(725,0.44)(738,0.40)(757,0.38)};
\addplot[forget plot,red,line width=19pt,line cap=round,line join=round] coordinates {(771,0.38)(784,0.41)(798,0.47)(808,0.535)(818,0.67)(828,0.79)(839,0.85)};
\addplot[forget plot,red,line width=19pt,line cap=round,line join=round] coordinates {(861,0.755)(871,0.67)(882,0.555)(892,0.46)(902,0.425)(914,0.40)};
\addplot[forget plot,only marks,mark=*,mark size=3.9pt,color=ftirg,ebar] table[x index=0,y index=1,y error index=2] {\greenA};
\addplot[forget plot,black,line width=6.5pt] coordinates {(152,0.513)(915,0.573)};
\end{axis}

% ---------- panel (b)
\begin{axis}[base,
  at={(102pt,29.3pt)},anchor=south west,
  ymin=0,ymax=1.65,
  xtick={104.7,175.4,240,310.4,379.5,450.5,518.5,590.3,661.3,730,800.7,869.5,942},
  xticklabels={Jan,Feb,Mar,Apr,May,Jun,Jul,Aug,Sep,Oct,Nov,Dec,Jan},
  ytick={0,0.2,0.4,0.6,0.8,1.0,1.2,1.4,1.6},
  xticklabel style={yshift=-16pt},
  legend style={at={(rel axis cs:1,1)},anchor=north west,xshift=7pt,yshift=0pt,
    draw=framegray,line width=1.3pt,fill=white,font=\fontsize{11.6}{13}\selectfont,text=black!75,
    nodes={inner ysep=1.9pt,inner xsep=1pt,text height=9.4pt,text depth=3.1pt}},
  legend cell align=left,
  after end axis/.code={
    \node[xshift=-80pt,yshift=-4pt,rotate=90,labelA] at (rel axis cs:0,0.5) {(b)};
    \node[xshift=-53pt,yshift=5pt,rotate=90,labelA] at (rel axis cs:0,0.5) {$X_{HCHO}$ [ppbv]};
  },
]
\addlegendimage{legend image code/.code={\path[draw=none,fill=none] (-1pt,-4pt) rectangle (33pt,4pt);\fill[blue!30,draw=blue!30!gray,line width=0.4pt] (0,-4pt) rectangle (24pt,4pt);}}
\addlegendentry{FTIR}
\addlegendimage{legend image code/.code={\path[draw=none,fill=none] (-1pt,-4pt) rectangle (33pt,4pt);\fill[pink!45,draw=gray!70,line width=0.4pt] (0,-4pt) rectangle (24pt,4pt);}}
\addlegendentry{GEOS-Chem}
\def\lkey#1{\addlegendimage{legend image code/.code={\path[draw=none,fill=none] (-1pt,-4pt) rectangle (33pt,4pt);\draw[red,opacity=0.5,line width=0.7pt,overlay] (4pt,-7pt)--(4pt,7pt) (20pt,-7pt)--(20pt,7pt);\filldraw[fill=#1,draw=black!70,line width=0.4pt,overlay] (4pt,0) circle (3.8pt) (20pt,0) circle (3.8pt);}}}
\lkey{blue}\addlegendentry{2015}
\lkey{lime}\addlegendentry{2016}
\lkey{orng}\addlegendentry{2017}
\lkey{cyn}\addlegendentry{2018}
\lkey{dkg}\addlegendentry{2019}

\addplot[forget plot,fill=blue,fill opacity=0.3,draw=blue!40!gray,draw opacity=0.7,line width=0.5pt] coordinates {(136.4,0.47)(205.4,0.50)(269.4,0.565)(343.4,0.60)(410.8,0.81)(481.5,0.85)(551.7,1.10)(622.3,1.00)(696.4,0.76)(763.7,0.61)(831,0.52)(903.4,0.45)(903.4,0.29)(831,0.31)(763.7,0.36)(696.4,0.44)(622.3,0.625)(551.7,0.72)(481.5,0.54)(410.8,0.51)(343.4,0.37)(269.4,0.30)(205.4,0.24)(136.4,0.26)} --cycle;
\addplot[forget plot,fill=pink,fill opacity=0.4,draw=gray,draw opacity=0.7,line width=0.5pt] coordinates {(136.4,0.555)(205.4,0.527)(269.4,0.55)(343.4,0.62)(410.8,0.76)(481.5,0.78)(551.7,1.00)(622.3,0.87)(696.4,0.68)(763.7,0.56)(831,0.52)(903.4,0.48)(903.4,0.35)(831,0.36)(763.7,0.39)(696.4,0.47)(622.3,0.63)(551.7,0.76)(481.5,0.565)(410.8,0.565)(343.4,0.43)(269.4,0.35)(205.4,0.295)(136.4,0.30)} --cycle;

\addplot[forget plot,yrmark=blue,ebar] table[x index=0,y index=1,y error index=2] {\yrA};
\addplot[forget plot,yrmark=lime,ebar] table[x index=0,y index=1,y error index=2] {\yrB};
\addplot[forget plot,yrmark=orng,ebar] table[x index=0,y index=1,y error index=2] {\yrC};
\addplot[forget plot,yrmark=cyn,ebar] table[x index=0,y index=1,y error index=2] {\yrD};
\addplot[forget plot,yrmark=dkg,ebar] table[x index=0,y index=1,y error index=2] {\yrE};

\addplot[forget plot,blue,line width=7pt,line join=round] coordinates {(136.4,0.345)(205.4,0.385)(269.4,0.42)(343.4,0.485)(410.8,0.665)(481.5,0.705)(551.7,0.895)(622.3,0.80)(696.4,0.605)(763.7,0.505)(831,0.45)(903.4,0.36)};
\addplot[forget plot,pnk,line width=7pt,line join=round] coordinates {(136.4,0.42)(205.4,0.43)(269.4,0.47)(343.4,0.53)(410.8,0.645)(481.5,0.715)(551.7,0.87)(622.3,0.745)(696.4,0.57)(763.7,0.47)(831,0.45)(903.4,0.44)};
\end{axis}
\end{tikzpicture}
\end{document}
